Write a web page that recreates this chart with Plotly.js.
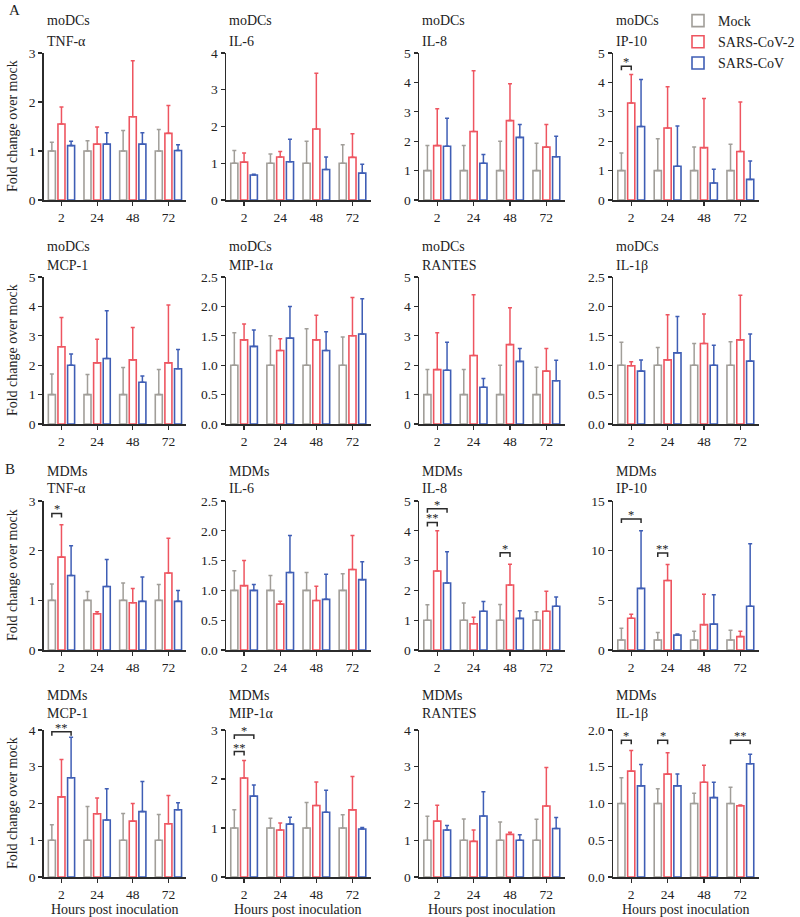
<!DOCTYPE html>
<html><head><meta charset="utf-8">
<script src="https://cdn.plot.ly/plotly-3.0.1.min.js"></script>
<style>body{margin:0;background:#fff}#chart{width:800px;height:917px}</style>
</head><body><div id="chart"></div>
<script>
// ---------------- DATA ----------------
const hours = ['2', '24', '48', '72'];
const seriesNames = ['Mock', 'SARS-CoV-2', 'SARS-CoV'];
const cellTypes = ['moDCs','moDCs','moDCs','moDCs','moDCs','moDCs','moDCs','moDCs',
                   'MDMs','MDMs','MDMs','MDMs','MDMs','MDMs','MDMs','MDMs'];
const cytokines = ['TNF-α','IL-6','IL-8','IP-10','MCP-1','MIP-1α','RANTES','IL-1β',
                   'TNF-α','IL-6','IL-8','IP-10','MCP-1','MIP-1α','RANTES','IL-1β'];
const yMax   = [3, 4, 5, 5, 5, 2.5, 5, 2.5, 3, 2.5, 5, 15, 4, 3, 4, 2];
const yDtick = [1, 1, 1, 1, 1, 0.5, 1, 0.5, 1, 0.5, 1, 5, 1, 1, 1, 0.5];

const mockMean = [
  [1,1,1,1],[1,1,1,1],[1,1,1,1],[1,1,1,1],[1,1,1,1],[1,1,1,1],[1,1,1,1],[1,1,1,1],
  [1,1,1,1],[1,1,1,1],[1,1,1,1],[1,1,1,1],[1,1,1,1],[1,1,1,1],[1,1,1,1],[1,1,1,1]];
const mockTop = [
  [1.18,1.21,1.42,1.44],[1.35,1.25,1.60,1.50],[1.85,1.85,2.00,1.93],[1.60,2.08,1.80,1.90],
  [1.70,1.68,1.92,1.85],[1.55,1.50,1.62,1.48],[1.85,1.85,2.00,1.93],[1.39,1.30,1.37,1.40],
  [1.33,1.18,1.35,1.32],[1.33,1.25,1.30,1.28],[1.52,1.58,1.53,1.28],[2.2,1.75,1.9,2.0],
  [1.42,1.92,1.73,1.70],[1.37,1.20,1.52,1.27],[1.65,1.58,1.50,1.57],[1.35,1.20,1.14,1.22]];
const cov2Mean = [
  [1.55,1.14,1.70,1.36],[1.03,1.17,1.93,1.16],[1.85,2.33,2.70,1.80],[3.30,2.45,1.78,1.65],
  [2.63,2.08,2.18,2.08],[1.43,1.25,1.43,1.50],[1.85,2.33,2.70,1.80],[0.99,1.09,1.37,1.43],
  [1.87,0.73,0.95,1.55],[1.08,0.77,0.83,1.35],[2.65,0.88,2.18,1.30],[3.2,7.0,2.55,1.35],
  [2.18,1.72,1.52,1.45],[2.02,0.96,1.46,1.37],[1.52,0.97,1.16,1.93],[1.44,1.40,1.29,0.97]];
const cov2Top = [
  [1.90,1.49,2.84,1.93],[1.28,1.32,3.45,1.80],[3.10,4.40,3.95,2.57],[4.27,3.85,3.45,3.33],
  [3.62,2.88,3.28,4.05],[1.70,1.45,1.85,2.15],[3.10,4.40,3.95,2.57],[1.06,1.86,1.87,2.19],
  [2.52,0.77,1.24,2.25],[1.50,0.82,1.07,1.92],[4.00,1.10,2.88,1.97],[3.6,8.6,5.6,1.9],
  [3.20,2.15,2.00,2.22],[2.38,1.10,1.94,2.05],[1.95,1.28,1.22,2.98],[1.72,1.69,1.52,0.98]];
const covMean = [
  [1.11,1.14,1.14,1.01],[0.68,1.04,0.83,0.73],[1.83,1.25,2.13,1.47],[2.50,1.15,0.58,0.70],
  [2.00,2.23,1.42,1.88],[1.32,1.46,1.25,1.53],[1.83,1.25,2.13,1.47],[0.90,1.21,1.00,1.07],
  [1.50,1.28,0.98,0.98],[1.00,1.30,0.85,1.18],[2.25,1.30,1.06,1.47],[6.2,1.5,2.6,4.4],
  [2.70,1.55,1.78,1.83],[1.65,1.08,1.32,0.98],[1.28,1.66,1.00,1.32],[1.24,1.24,1.08,1.54]];
const covTop = [
  [1.20,1.37,1.37,1.13],[0.70,1.65,1.17,0.97],[2.78,1.55,2.57,2.17],[4.10,2.52,1.05,1.33],
  [2.38,3.85,1.63,2.53],[1.60,2.00,1.57,2.13],[2.78,1.55,2.57,2.17],[1.09,1.83,1.34,1.53],
  [2.10,1.82,1.47,1.20],[1.10,1.92,1.27,1.48],[3.30,1.63,1.32,1.78],[12.0,1.6,5.55,10.7],
  [3.80,2.40,2.60,2.02],[1.88,1.22,1.77,1.01],[1.40,2.32,1.15,1.62],[1.53,1.40,1.29,1.67]];

// significance brackets: panel, time group, from series, to series, level, label
const sigPanel = [3, 8, 10, 10, 10, 11, 11, 12, 13, 13, 15, 15, 15];
const sigGroup = [0, 0, 0, 0, 2, 0, 1, 0, 0, 0, 0, 1, 3];
const sigFrom  = [0, 0, 0, 0, 0, 0, 0, 0, 0, 0, 0, 0, 0];
const sigTo    = [1, 1, 1, 2, 1, 2, 1, 2, 1, 2, 1, 1, 2];
const sigY     = [4.55, 2.75, 4.28, 4.74, 3.26, 13.2, 9.77, 3.95, 2.56, 2.9, 1.86, 1.86, 1.86];
const sigLabel = ['*', '*', '**', '*', '*', '*', '**', '**', '**', '*', '*', '*', '**'];

// ---------------- STYLE / LAYOUT ----------------
const W = 800, H = 917;
const FONT = 'Liberation Serif, Times New Roman, serif';
const colors = ['#a19e99', '#ee5560', '#3f5eb5'];
const colX = [[45,192],[233,382],[432,582],[632,782]];
const rowY = [[53,200],[277,424],[501,650],[730,877]];
const titleY1 = [20, 247, 471, 695];
const titleY2 = [42, 265, 488, 713];
const bargap = 0.19;
const slot = (1 - bargap) / 3;

const means = [mockMean, cov2Mean, covMean];
const tops = [mockTop, cov2Top, covTop];

const traces = [];
const layout = {
  width: W, height: H,
  margin: {l:0, r:0, t:0, b:0},
  paper_bgcolor: '#fff', plot_bgcolor: 'rgba(0,0,0,0)',
  barmode: 'group', bargap: bargap, bargroupgap: 0.27,
  font: {family: FONT, size: 13, color: '#222'},
  showlegend: true,
  legend: {x: 699/W, y: 1 - 5/H, xanchor: 'left', yanchor: 'top',
           font: {family: FONT, size: 14, color: '#222'}, bgcolor: 'rgba(0,0,0,0)',
           tracegroupgap: 0, itemwidth: 30},
  annotations: [], shapes: []
};

const px2y = p => 1 - p / H;

for (let k = 0; k < 16; k++) {
  const r = Math.floor(k / 4), c = k % 4;
  const xa = 'x' + (k + 1), ya = 'y' + (k + 1);
  for (let s = 0; s < 3; s++) {
    const m = means[s][k], t = tops[s][k];
    traces.push({
      type: 'bar', name: seriesNames[s], x: hours, y: m,
      xaxis: xa, yaxis: ya, legendgroup: seriesNames[s], showlegend: k === 0,
      marker: {color: '#ffffff', line: {color: colors[s], width: 1.6}},
      error_y: {type: 'data', symmetric: false,
                array: t.map((v, i) => Math.max(0, v - m[i])),
                arrayminus: m.map(() => 0),
                color: colors[s], thickness: 1.5, width: 2},
      hoverinfo: 'skip'
    });
  }
  const axSuffix = k === 0 ? '' : String(k + 1);
  layout['xaxis' + axSuffix] = {
    domain: [colX[c][0] / W, colX[c][1] / W], anchor: ya,
    type: 'category', range: [-0.5, 3.5], categoryorder: 'array', categoryarray: hours,
    showline: true, linecolor: '#2b2b2b', linewidth: 1.5,
    ticks: 'outside', ticklen: 4, tickwidth: 1.2, tickcolor: '#2b2b2b',
    tickfont: {family: FONT, size: 13.5, color: '#222'},
    showgrid: false, zeroline: false, fixedrange: true
  };
  layout['yaxis' + axSuffix] = {
    domain: [px2y(rowY[r][1]), px2y(rowY[r][0])], anchor: xa,
    range: [0, yMax[k]], tick0: 0, dtick: yDtick[k],
    tickformat: yDtick[k] < 1 ? '.1f' : 'd',
    showline: true, linecolor: '#2b2b2b', linewidth: 1.5,
    ticks: 'outside', ticklen: 4, tickwidth: 1.2, tickcolor: '#2b2b2b',
    tickfont: {family: FONT, size: 13.5, color: '#222'},
    showgrid: false, zeroline: false, fixedrange: true
  };
  // subplot titles
  layout.annotations.push({text: cellTypes[k], xref: 'paper', yref: 'paper',
    x: (colX[c][0] + 1) / W, y: px2y(titleY1[r]), xanchor: 'left', yanchor: 'middle',
    showarrow: false, font: {family: FONT, size: 14, color: '#222'}});
  layout.annotations.push({text: cytokines[k], xref: 'paper', yref: 'paper',
    x: (colX[c][0] + 1) / W, y: px2y(titleY2[r]), xanchor: 'left', yanchor: 'middle',
    showarrow: false, font: {family: FONT, size: 14, color: '#222'}});
  if (c === 0) {
    layout.annotations.push({text: 'Fold change over mock', xref: 'paper', yref: 'paper',
      x: 13 / W, y: px2y((rowY[r][0] + rowY[r][1]) / 2), textangle: -90,
      xanchor: 'center', yanchor: 'middle', showarrow: false,
      font: {family: FONT, size: 14, color: '#222'}});
  }
  if (r === 3) {
    layout.annotations.push({text: 'Hours post inoculation', xref: 'paper', yref: 'paper',
      x: (colX[c][0] + colX[c][1]) / 2 / W, y: px2y(909), xanchor: 'center', yanchor: 'middle',
      showarrow: false, font: {family: FONT, size: 14, color: '#222'}});
  }
}

// panel letters
layout.annotations.push({text: 'A', xref: 'paper', yref: 'paper', x: 7 / W, y: px2y(10),
  xanchor: 'left', yanchor: 'middle', showarrow: false, font: {family: FONT, size: 15, color: '#222'}});
layout.annotations.push({text: 'B', xref: 'paper', yref: 'paper', x: 3 / W, y: px2y(469),
  xanchor: 'left', yanchor: 'middle', showarrow: false, font: {family: FONT, size: 15, color: '#222'}});

// significance brackets
for (let i = 0; i < sigPanel.length; i++) {
  const k = sigPanel[i];
  const xa = 'x' + (k + 1), ya = 'y' + (k + 1);
  const x1 = sigGroup[i] + (sigFrom[i] - 1) * slot;
  const x2 = sigGroup[i] + (sigTo[i] - 1) * slot;
  const y = sigY[i];
  const h = 4 / 147 * yMax[k];
  layout.shapes.push({type: 'path', xref: xa, yref: ya,
    path: `M${x1},${y - h} L${x1},${y} L${x2},${y} L${x2},${y - h}`,
    line: {color: '#2b2b2b', width: 1.5}});
  layout.annotations.push({text: sigLabel[i], xref: xa, yref: ya, x: (x1 + x2) / 2, y: y,
    xanchor: 'center', yanchor: 'bottom', yshift: -5, showarrow: false,
    font: {family: FONT, size: 12.5, color: '#222'}});
}

Plotly.newPlot('chart', traces, layout, {staticPlot: true});
</script></body></html>
